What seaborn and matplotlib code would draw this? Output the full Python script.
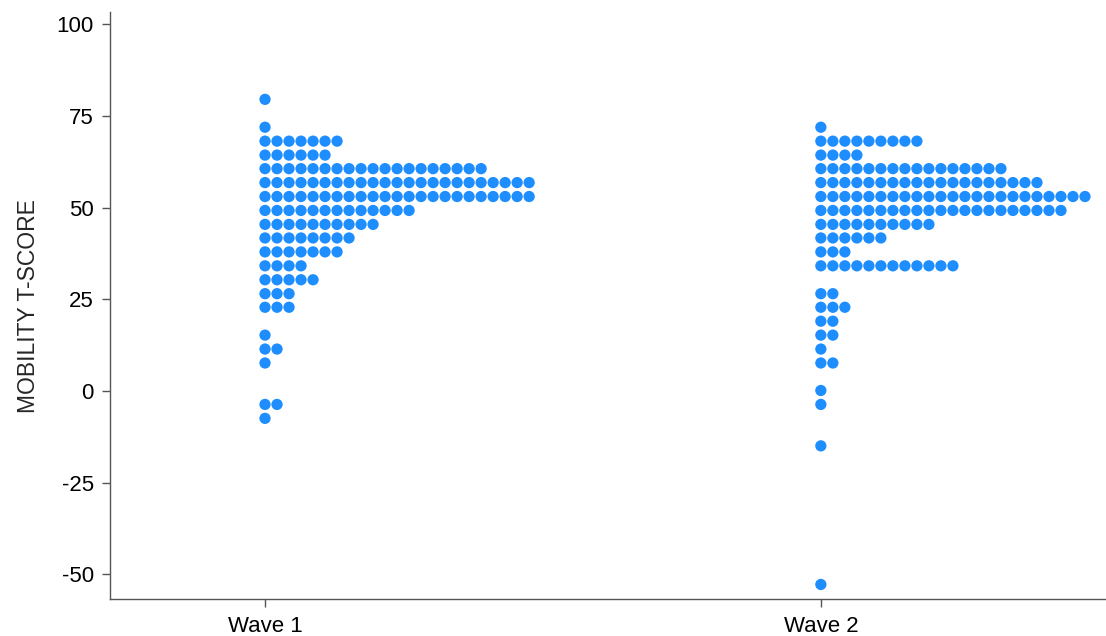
import pandas as pd
import seaborn as sns
import matplotlib.pyplot as plt

# dot plot rows: binned score and number of people in that bin
wave1_scores = [79.5, 71.9, 68.1, 64.3, 60.6, 56.8, 53.0, 49.2, 45.4, 41.7,
                37.9, 34.1, 30.3, 26.5, 22.8, 15.2, 11.4, 7.6, -3.7, -7.5]
wave1_counts = [1, 1, 7, 6, 19, 23, 23, 13, 10, 8,
                7, 4, 5, 3, 3, 1, 2, 1, 2, 1]

wave2_scores = [71.9, 68.1, 64.3, 60.6, 56.8, 53.0, 49.2, 45.4, 41.7, 37.9,
                34.1, 26.5, 22.8, 19.0, 15.2, 11.4, 7.6, 0.1, -3.7, -15.0, -52.8]
wave2_counts = [1, 9, 4, 16, 19, 23, 21, 10, 6, 3,
                12, 2, 3, 2, 2, 1, 2, 1, 1, 1, 1]

wave_labels = ["Wave 1", "Wave 2"]
y_ticks = [100, 75, 50, 25, 0, -25, -50]

dot_step = 0.0216  # horizontal spacing between stacked dots

rows = []
for pos, (scores, counts) in enumerate([(wave1_scores, wave1_counts),
                                         (wave2_scores, wave2_counts)], start=1):
    for score, n in zip(scores, counts):
        for i in range(n):
            rows.append({"x": pos + i * dot_step, "score": score, "wave": wave_labels[pos - 1]})
df = pd.DataFrame(rows)

sns.set_style("ticks")
plt.rcParams["font.family"] = ["Liberation Sans", "DejaVu Sans"]

fig = plt.figure(figsize=(11.06, 6.36), dpi=100)
ax = fig.add_axes([0.0999, 0.0574, 0.9001, 0.9236])

sns.scatterplot(data=df, x="x", y="score", color="#1E8EFF", s=66,
                edgecolor="none", linewidth=0, ax=ax, legend=False)

ax.set_xlim(0.722, 2.513)
ax.set_ylim(-56.9, 103.3)
ax.set_xticks([1, 2])
ax.set_xticklabels(wave_labels)
ax.set_yticks(y_ticks)
ax.set_yticklabels([str(t) for t in y_ticks])
ax.set_xlabel("")
ax.set_ylabel("MOBILITY T-SCORE", fontsize=16.5, labelpad=12)

ax.tick_params(axis="both", labelsize=16, length=6, width=1.0,
               color="#555555", labelcolor="black", pad=6)
for side in ["top", "right"]:
    ax.spines[side].set_visible(False)
for side in ["left", "bottom"]:
    ax.spines[side].set_color("#555555")
    ax.spines[side].set_linewidth(1.0)

fig.savefig("out.png", dpi=100)
